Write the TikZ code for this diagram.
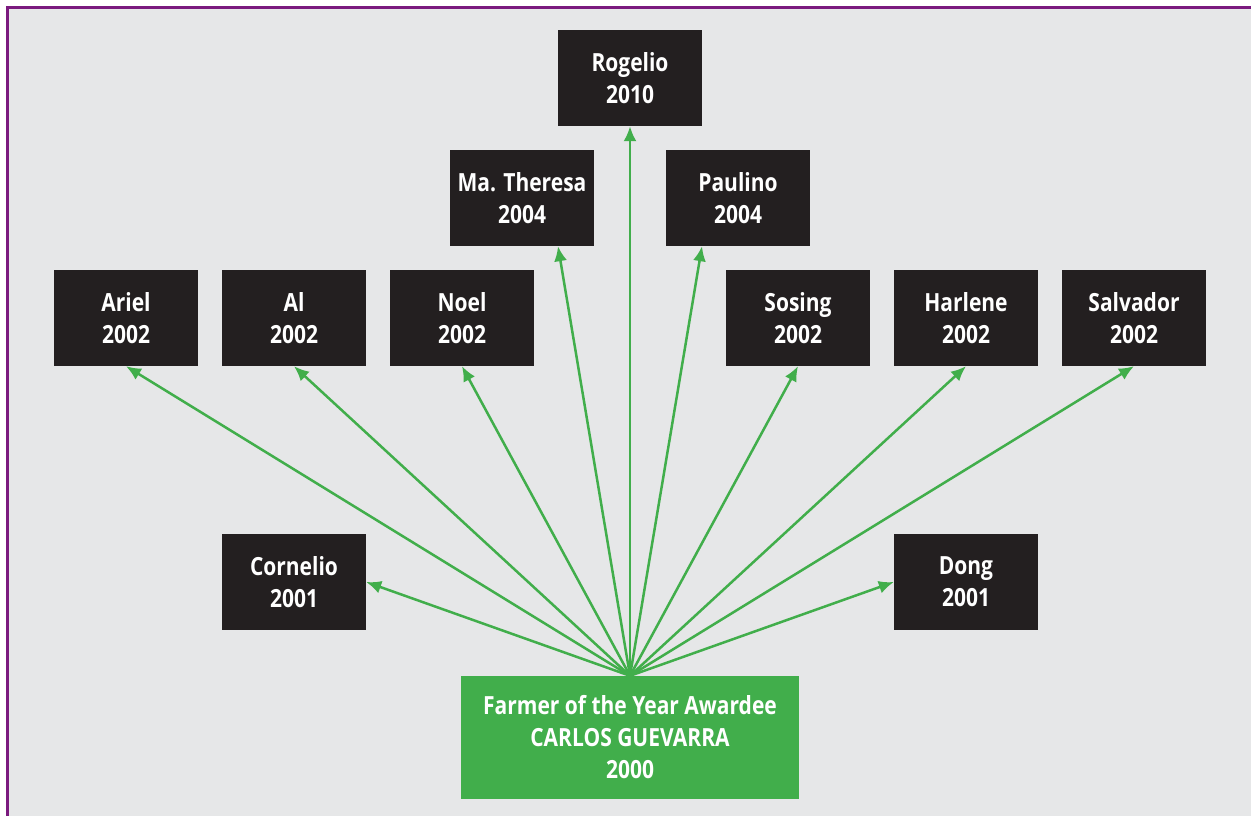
\documentclass[tikz,border=0pt]{standalone}
\usepackage{fontspec}
\setmainfont{Open Sans}[FakeStretch=0.84]
\usetikzlibrary{arrows.meta,calc}
\definecolor{bgray}{HTML}{E6E7E8}
\definecolor{frame}{HTML}{7B1A7E}
\definecolor{boxblack}{HTML}{231F20}
\definecolor{agreen}{HTML}{41AE4B}
\tikzset{
  person/.style={fill=boxblack, text=white, minimum width=144pt, minimum height=96pt, inner sep=0pt, align=center, font=\bfseries\fontsize{25}{32}\selectfont},
  root/.style={fill=agreen, text=white, minimum width=338pt, minimum height=123pt, inner sep=0pt, align=center, font=\bfseries\fontsize{25}{32}\selectfont},
  link/.style={draw=agreen, line width=2.5pt, -{Latex[length=15pt,width=13pt]}}
}
\begin{document}
\begin{tikzpicture}[x=1pt,y=-1pt]
\useasboundingbox (0,0) rectangle (1251,816);
\fill[frame] (6,6) rectangle (1251,816);
\fill[bgray] (9,9) rectangle (1251,816);
\node[person] (rog) at (630,78) {Rogelio\\2010};
\node[person] (mt) at (522,198) {Ma. Theresa\\2004};
\node[person] (pau) at (738,198) {Paulino\\2004};
\node[person] (ari) at (126,318) {Ariel\\2002};
\node[person] (al) at (294,318) {Al\\2002};
\node[person] (noe) at (462,318) {Noel\\2002};
\node[person] (sos) at (798,318) {Sosing\\2002};
\node[person] (har) at (966,318) {Harlene\\2002};
\node[person] (sal) at (1134,318) {Salvador\\2002};
\node[person] (cor) at (294,582) {Cornelio\\2001};
\node[person] (don) at (966,582) {Dong\\2001};
\node[root] (far) at (630,737.5) {Farmer of the Year Awardee\\CARLOS GUEVARRA\\2000};
\coordinate (o) at (far.north);
\draw[link] (o) -- (rog.south);
\draw[link] (o) -- ([xshift=36pt]mt.south);
\draw[link] (o) -- ([xshift=-36pt]pau.south);
\draw[link] (o) -- (ari.south);
\draw[link] (o) -- (al.south);
\draw[link] (o) -- (noe.south);
\draw[link] (o) -- (sos.south);
\draw[link] (o) -- (har.south);
\draw[link] (o) -- (sal.south);
\draw[link] (o) -- (cor.east);
\draw[link] (o) -- (don.west);
\end{tikzpicture}
\end{document}
